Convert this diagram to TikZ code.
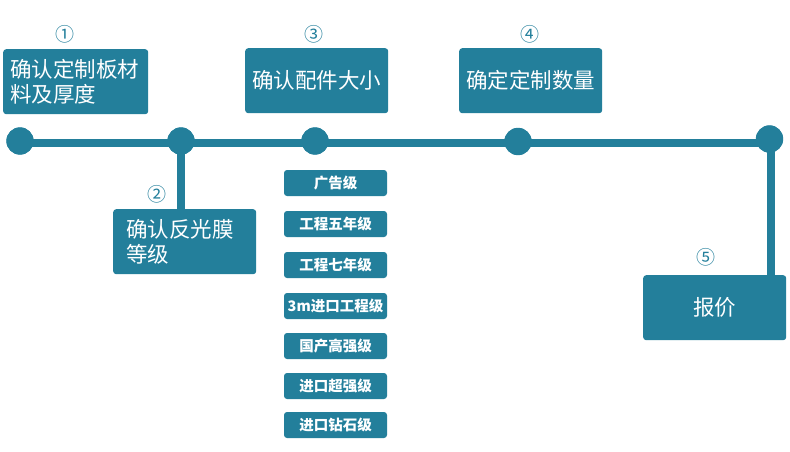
\documentclass[tikz,border=0pt]{standalone}
\usepackage{fontspec}
\setmainfont{Noto Sans CJK SC}
\definecolor{tealc}{HTML}{237F9B}
\begin{document}
\begin{tikzpicture}[x=1pt,y=-1pt,
  bigbox/.style={fill=tealc, rounded corners=3pt, minimum width=143pt, minimum height=65pt,
    text=white, font=\fontsize{21.5}{25}\selectfont, inner sep=0pt, anchor=north west},
  smallbox/.style={fill=tealc, rounded corners=3pt, minimum width=103pt, minimum height=26pt,
    text=white, font=\fontsize{14.5}{15}\selectfont\bfseries, inner sep=0pt},
  dotnode/.style={circle, fill=tealc, minimum size=27pt, inner sep=0pt},
  num/.style={text=tealc, font=\fontsize{19}{20}\selectfont, inner sep=0pt},
  track/.style={draw=tealc, line width=8pt}
]
\useasboundingbox (0,0) rectangle (790,452);

% dots
\node[dotnode] (d1) at (20,141) {};
\node[dotnode] (d2) at (181,141) {};
\node[dotnode] (d3) at (315,141) {};
\node[dotnode] (d4) at (518,141.5) {};
\node[dotnode] (d5) at (769.5,139) {};
\coordinate (l1) at (20,143);
\coordinate (l5) at (770.5,143);

% big boxes
\node[bigbox, text width=131pt, inner xsep=7pt, align=left] (b1) at (3,49) {确认定制板材\\料及厚度};
\node[bigbox, text width=117pt, inner xsep=13pt, align=left] (b2) at (113,209) {确认反光膜\\等级};
\node[bigbox, align=center] (b3) at (245,48) {确认配件大小};
\node[bigbox, align=center] (b4) at (459,48) {确定定制数量};
\node[bigbox, align=center] (b5) at (643,275) {报价};

% track
\draw[track] (l1) -- (l5);
\draw[track] (d2.center) -- (d2.center |- b2.north);
\draw[track] (l5) -- (l5 |- b5.north);
\foreach \d in {d1,d2,d3,d4,d5} \fill[tealc] (\d) circle (13.7pt);

% numbers
\node[num] (n1) at (65,34) {①};
\node[num] (n2) at (157,194) {②};
\node[num] (n3) at (314,34) {③};
\node[num] (n4) at (530,34) {④};
\node[num] (n5) at (706,257) {⑤};

% small boxes
\node[smallbox] (s1) at (335.5,183) {广告级};
\node[smallbox] (s2) at (335.5,224) {工程五年级};
\node[smallbox] (s3) at (335.5,265) {工程七年级};
\node[smallbox] (s4) at (335.5,306) {3m进口工程级};
\node[smallbox] (s5) at (335.5,346) {国产高强级};
\node[smallbox] (s6) at (335.5,386) {进口超强级};
\node[smallbox] (s7) at (335.5,425) {进口钻石级};
\end{tikzpicture}
\end{document}
